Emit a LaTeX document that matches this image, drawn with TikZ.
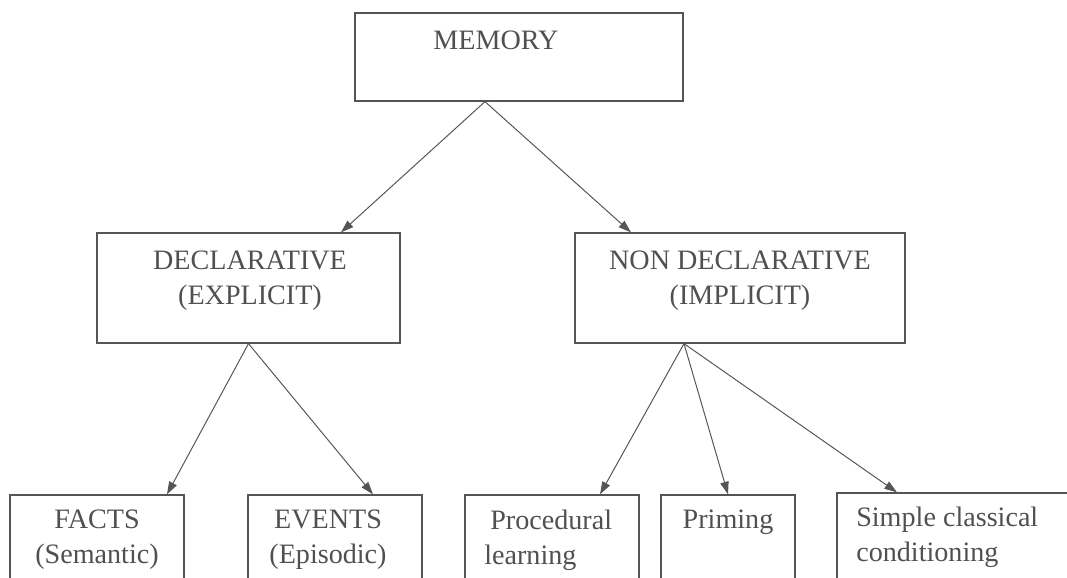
\documentclass[tikz,border=0pt]{standalone}
\usepackage{fontspec}
\setmainfont{Liberation Serif}
\usetikzlibrary{arrows.meta}
\newlength\pxu
\setlength\pxu{0.025cm}
\definecolor{inkgray}{HTML}{505050}
\definecolor{linegray}{HTML}{555555}
\begin{document}
\begin{tikzpicture}[x=\pxu,y=-\pxu,
  box/.style={draw=linegray,line width=0.9pt,rectangle,inner sep=0pt},
  lbl/.style={text=inkgray,font=\fontsize{20}{25}\selectfont,inner sep=0pt},
  arr/.style={draw=linegray,line width=0.7pt,-{Triangle[length=9pt,width=6pt]}}]
  \useasboundingbox (0,0) rectangle (1067,578);
  \clip (0,0) rectangle (1067,578);
  % boxes
  \node[box,minimum width=328\pxu,minimum height=88\pxu] (memory) at (519,57) {};
  \node[box,minimum width=303\pxu,minimum height=110\pxu] (decl) at (248.5,288) {};
  \node[box,minimum width=330\pxu,minimum height=110\pxu] (nondecl) at (740,288) {};
  \node[box,minimum width=174\pxu,minimum height=125\pxu] (facts) at (97,557.5) {};
  \node[box,minimum width=174\pxu,minimum height=125\pxu] (events) at (335,557.5) {};
  \node[box,minimum width=174\pxu,minimum height=125\pxu] (proc) at (552,557.5) {};
  \node[box,minimum width=134\pxu,minimum height=125\pxu] (priming) at (728,557.5) {};
  \node[box,minimum width=263\pxu,minimum height=129\pxu] (simple) at (968.5,557.5) {};
  % texts
  \node[lbl] (memorytxt) at (496,40) {MEMORY};
  \node[lbl,align=center] (decltxt) at (250,281) {DECLARATIVE\\(EXPLICIT)};
  \node[lbl,align=center] (nondecltxt) at (740,281) {NON DECLARATIVE\\(IMPLICIT)};
  \node[lbl,align=center] (factstxt) at (97,540) {FACTS\\(Semantic)};
  \node[lbl,align=center] (eventstxt) at (328,540) {EVENTS\\(Episodic)};
  \node[lbl,align=left,anchor=west] (proctxt) at (484,540) {\hspace{6\pxu}Procedural\\learning};
  \node[lbl] (primingtxt) at (728,522) {Priming};
  \node[lbl,align=left,anchor=west] (simpletxt) at (856,537) {Simple classical\\conditioning};
  % arrows
  \draw[arr] ([xshift=-34\pxu]memory.south) -- ([xshift=92.5\pxu]decl.north);
  \draw[arr] ([xshift=-34\pxu]memory.south) -- ([xshift=-109\pxu]nondecl.north);
  \draw[arr] (decl.south) -- ([xshift=70\pxu]facts.north);
  \draw[arr] (decl.south) -- ([xshift=38\pxu]events.north);
  \draw[arr] ([xshift=-56\pxu]nondecl.south) -- ([xshift=48\pxu]proc.north);
  \draw[arr] ([xshift=-56\pxu]nondecl.south) -- (priming.north);
  \draw[arr] ([xshift=-56\pxu]nondecl.south) -- ([xshift=-71.5\pxu]simple.north);
\end{tikzpicture}
\end{document}
